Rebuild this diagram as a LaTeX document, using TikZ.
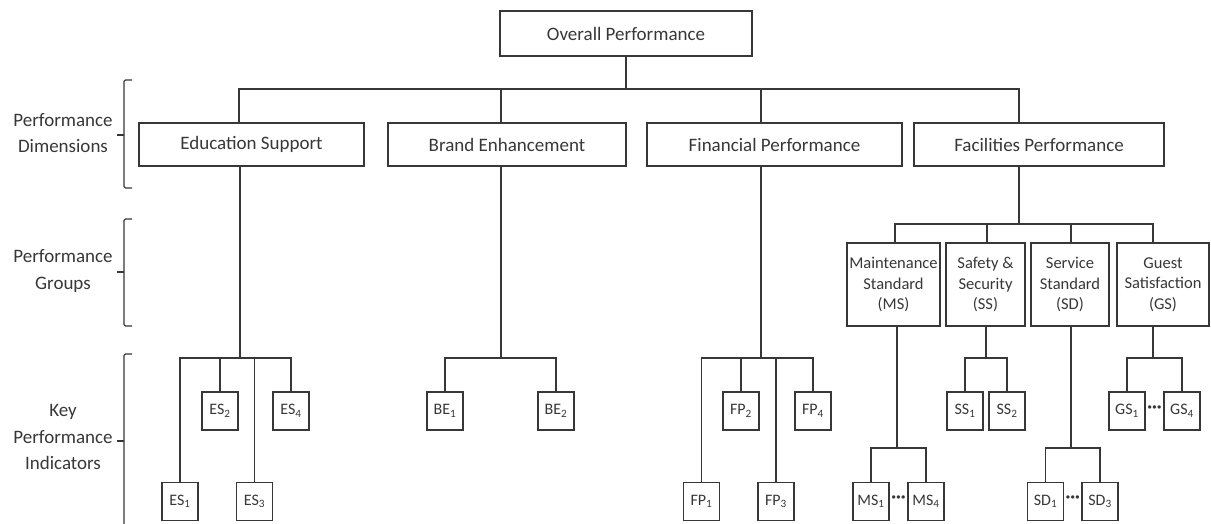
\documentclass[tikz,border=0pt]{standalone}
\usepackage{fontspec}
\setmainfont{Carlito}
\definecolor{ink}{RGB}{55,55,55}
\begin{document}
\begin{tikzpicture}[x=1pt,y=-1pt,
  line width=1.1pt, draw=ink, text=ink,
  bx/.style={draw=ink, line width=1.1pt, inner sep=0pt, align=center},
  big/.style={bx, font=\fontsize{19}{23}\selectfont},
  grp/.style={bx, font=\fontsize{16.5}{20.7}\selectfont},
  kpi/.style={bx, minimum width=36pt, minimum height=38pt, font=\fontsize{16}{19}\selectfont},
  lab/.style={align=center, font=\fontsize{19}{26.7}\selectfont, inner sep=0pt},
  brk/.style={line width=1.1pt, rounded corners=1.5pt},
  dotsn/.style={inner sep=0pt, font=\fontsize{18}{18}\selectfont\bfseries}
]
\useasboundingbox (0,0) rectangle (1211,524);
\newcommand\bxn[7]{\node[#1, minimum width={#5-#3}, minimum height={#6-#4}] (#2) at ({(#3+#5)/2},{(#4+#6)/2}) {#7};}

% ---- level 0 / 1
\bxn{big}{top}{500}{11}{752}{56}{Overall Performance}
\bxn{big}{ed}{139}{123}{364}{166}{Education Support}
\bxn{big}{be}{388}{123}{626}{166}{Brand Enhancement}
\bxn{big}{fp}{647}{123}{902}{166}{Financial Performance}
\bxn{big}{fac}{914}{123}{1164}{166}{Facilities Performance}

\coordinate (bus0) at (626,89);
\draw (top.south) -- (bus0);
\draw (ed.north -| 239,0) |- (bus0) -| (fac.north -| 1019,0);
\draw (be.north -| 501,0) -- (501,89);
\draw (fp.north -| 761,0) -- (761,89);

% ---- groups
\bxn{grp}{ms}{847}{243}{940}{326}{Maintenance\\Standard\\(MS)}
\bxn{grp}{ss}{946}{243}{1025}{326}{Safety \&\\Security\\(SS)}
\bxn{grp}{sd}{1031}{243}{1109}{326}{Service\\Standard\\(SD)}
\bxn{grp}{gs}{1117}{243}{1209}{326}{Guest\\Satisfaction\\(GS)}

\coordinate (busf) at (1019,224);
\draw (fac.south -| 1019,0) -- (busf);
\draw (ms.north -| 895,0) |- (busf) -| (gs.north -| 1153,0);
\draw (ss.north -| 987,0) -- (987,224);
\draw (sd.north -| 1071,0) -- (1071,224);

% ---- KPIs
\node[kpi] (es1) at (180,501.5) {ES\textsubscript{1}};
\node[kpi] (es2) at (220,411) {ES\textsubscript{2}};
\node[kpi] (es3) at (254.5,501.5) {ES\textsubscript{3}};
\node[kpi] (es4) at (291,411) {ES\textsubscript{4}};

\node[kpi] (be1) at (445,411) {BE\textsubscript{1}};
\node[kpi] (be2) at (556,411) {BE\textsubscript{2}};

\node[kpi] (fp1) at (701.5,501.5) {FP\textsubscript{1}};
\node[kpi] (fp2) at (741,411) {FP\textsubscript{2}};
\node[kpi] (fp3) at (776,501.5) {FP\textsubscript{3}};
\node[kpi] (fp4) at (813,411) {FP\textsubscript{4}};

\node[kpi] (ms1) at (871,501.5) {MS\textsubscript{1}};
\node[kpi] (ms4) at (926,501.5) {MS\textsubscript{4}};
\node[kpi] (ss1) at (965,411) {SS\textsubscript{1}};
\node[kpi] (ss2) at (1007,411) {SS\textsubscript{2}};
\node[kpi] (sd1) at (1045.5,501.5) {SD\textsubscript{1}};
\node[kpi] (sd3) at (1100,501.5) {SD\textsubscript{3}};
\node[kpi] (gs1) at (1127,411) {GS\textsubscript{1}};
\node[kpi] (gs4) at (1182,411) {GS\textsubscript{4}};

\node[dotsn] (dms) at (898.5,499.5) {···};
\node[dotsn] (dsd) at (1072.8,499.5) {···};
\node[dotsn] (dgs) at (1154.5,409) {···};

% ED tree
\coordinate (bes) at (240,358);
\draw (ed.south -| 240,0) -- (bes);
\draw (es1.north) |- (bes) -| (es4.north);
\draw (es2.north) -- (es2.north |- bes);
\draw (es3.north) -- (es3.north |- bes);
% BE tree
\coordinate (bbe) at (501,358);
\draw (be.south -| 501,0) -- (bbe);
\draw (be1.north) |- (bbe) -| (be2.north);
% FP tree
\coordinate (bfp) at (761,358);
\draw (fp.south -| 761,0) -- (bfp);
\draw (fp1.north) |- (bfp) -| (fp4.north);
\draw (fp2.north) -- (fp2.north |- bfp);
\draw (fp3.north) -- (fp3.north |- bfp);
% MS
\coordinate (bms) at (897,448);
\draw (ms.south -| 897,0) -- (bms);
\draw (ms1.north) |- (bms) -| (ms4.north);
% SS
\coordinate (bss) at (986,358);
\draw (ss.south -| 986,0) -- (bss);
\draw (ss1.north) |- (bss) -| (ss2.north);
% SD
\coordinate (bsd) at (1071,448);
\draw (sd.south -| 1071,0) -- (bsd);
\draw (sd1.north) |- (bsd) -| (sd3.north);
% GS
\coordinate (bgs) at (1153,358);
\draw (gs.south -| 1153,0) -- (bgs);
\draw (gs1.north) |- (bgs) -| (gs4.north);

% ---- side labels and brackets
\node[lab] (l1) at (63,133) {Performance\\Dimensions};
\node[lab] (l2) at (63,271) {Performance\\Groups};
\node[lab] (l3) at (63,437) {Key\\Performance\\Indicators};

\draw[brk] (132,80) -- (124,80) -- (124,188) -- (132,188);
\draw (124,135) -- (117,135);
\draw[brk] (132,219) -- (124,219) -- (124,326) -- (132,326);
\draw (124,272) -- (117,272);
\draw[brk] (132,354) -- (124,354) -- (124,530);
\draw (124,441) -- (117,441);
\end{tikzpicture}
\end{document}
